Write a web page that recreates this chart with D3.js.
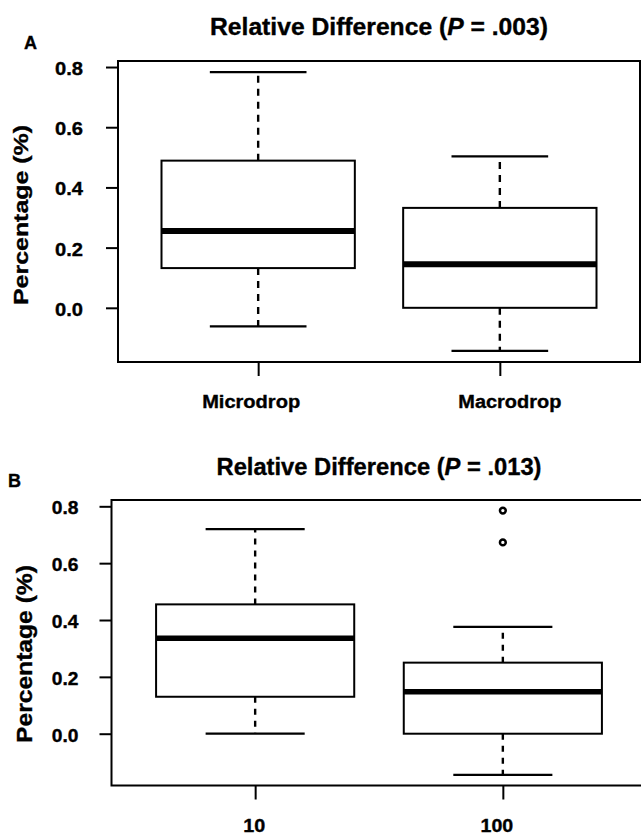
<!DOCTYPE html>
<html><head><meta charset="utf-8">
<script src="https://cdn.jsdelivr.net/npm/d3@7"></script>
<style>
body{margin:0;background:#fff}
svg{display:block}
text{font-family:"Liberation Sans",Arial,Helvetica,sans-serif;font-weight:bold;fill:#000;stroke:#000;stroke-width:0.35px}
</style>
</head><body>
<svg id="chart" width="641" height="835"></svg>
<script>
// ---------- data ----------
const yTicks = [0.0, 0.2, 0.4, 0.6, 0.8];

const categoriesA = ["Microdrop", "Macrodrop"];
const whiskerLowA  = [-0.062, -0.143];
const q1A          = [0.132, 0.000];
const medianA      = [0.255, 0.145];
const q3A          = [0.489, 0.332];
const whiskerHighA = [0.783, 0.503];
const outliersA    = [[], []];
const pValueA      = ".003";

const categoriesB = ["10", "100"];
const whiskerLowB  = [0.000, -0.145];
const q1B          = [0.130, 0.000];
const medianB      = [0.336, 0.148];
const q3B          = [0.455, 0.250];
const whiskerHighB = [0.720, 0.376];
const outliersB    = [[], [0.673, 0.785]];
const pValueB      = ".013";

const svg = d3.select("#chart");

function drawPanel(d, L) {
  const g = svg.append("g");
  const n = d.cats.length;
  const x = d3.scaleLinear().domain([0.5 - 0.04 * n, n + 0.5 + 0.04 * n]).range([L.left, L.right]);
  const all = d.low.concat(d.high, d.out.flat());
  const lo = d3.min(all), hi = d3.max(all), pad = (hi - lo) * 0.04;
  const y = d3.scaleLinear().domain([lo - pad, hi + pad]).range([L.bottom, L.top]);

  const idx = d3.range(n);
  const bw = 0.8, cw = 0.4;

  // whiskers (dashed)
  g.selectAll(".wu").data(idx).join("line")
    .attr("x1", i => x(i + 1)).attr("x2", i => x(i + 1))
    .attr("y1", i => y(d.q3[i])).attr("y2", i => y(d.high[i]))
    .attr("stroke", "#000").attr("stroke-width", 2.4).attr("stroke-dasharray", L.dash);
  g.selectAll(".wl").data(idx).join("line")
    .attr("x1", i => x(i + 1)).attr("x2", i => x(i + 1))
    .attr("y1", i => y(d.q1[i])).attr("y2", i => y(d.low[i]))
    .attr("stroke", "#000").attr("stroke-width", 2.4).attr("stroke-dasharray", L.dash);
  // caps
  ["high", "low"].forEach(k => {
    g.selectAll(".cap" + k).data(idx).join("line")
      .attr("x1", i => x(i + 1 - cw / 2)).attr("x2", i => x(i + 1 + cw / 2))
      .attr("y1", i => y(d[k][i])).attr("y2", i => y(d[k][i]))
      .attr("stroke", "#000").attr("stroke-width", 2.3);
  });
  // boxes
  g.selectAll(".box").data(idx).join("rect")
    .attr("x", i => x(i + 1 - bw / 2)).attr("width", i => x(i + 1 + bw / 2) - x(i + 1 - bw / 2))
    .attr("y", i => y(d.q3[i])).attr("height", i => y(d.q1[i]) - y(d.q3[i]))
    .attr("fill", "#fff").attr("stroke", "#000").attr("stroke-width", 2);
  // medians
  g.selectAll(".med").data(idx).join("line")
    .attr("x1", i => x(i + 1 - bw / 2)).attr("x2", i => x(i + 1 + bw / 2))
    .attr("y1", i => y(d.med[i])).attr("y2", i => y(d.med[i]))
    .attr("stroke", "#000").attr("stroke-width", L.medW);
  // outliers
  const outs = [];
  d.out.forEach((arr, i) => arr.forEach(v => outs.push({i, v})));
  g.selectAll(".out").data(outs).join("circle")
    .attr("cx", o => x(o.i + 1)).attr("cy", o => y(o.v)).attr("r", 2.9)
    .attr("fill", "none").attr("stroke", "#000").attr("stroke-width", 2.5);

  // frame
  g.append("rect").attr("x", L.left).attr("y", L.top)
    .attr("width", L.right - L.left).attr("height", L.bottom - L.top)
    .attr("fill", "none").attr("stroke", "#000").attr("stroke-width", 2);

  // y axis
  const ya = g.append("g").attr("transform", `translate(${L.left},0)`)
    .call(d3.axisLeft(y).tickValues(yTicks).tickSize(12).tickPadding(L.tickPad).tickFormat(d3.format(".1f")));
  ya.select(".domain").remove();
  ya.selectAll(".tick line").attr("stroke", "#000").attr("stroke-width", 2);
  ya.selectAll(".tick text").attr("font-size", L.tickSize).attr("font-family", null)
    .attr("dy", "0.42em").attr("textLength", L.tickLen).attr("lengthAdjust", "spacingAndGlyphs");

  // x axis
  const xa = g.append("g").attr("transform", `translate(0,${L.bottom})`)
    .call(d3.axisBottom(x).tickValues(idx.map(i => i + 1)).tickSize(14).tickFormat(""));
  xa.select(".domain").remove();
  xa.selectAll(".tick line").attr("stroke", "#000").attr("stroke-width", 2);
  g.selectAll(".xl").data(idx).join("text")
    .attr("x", i => x(i + 1) + L.xDx[i]).attr("y", L.xLabelY)
    .attr("text-anchor", "middle").attr("font-size", L.xLabelSize)
    .attr("textLength", i => L.xLabelLens[i]).attr("lengthAdjust", "spacingAndGlyphs")
    .text(i => d.cats[i]);

  // y title
  g.append("text")
    .attr("transform", `translate(${L.yTitleX},${L.yTitleY}) rotate(-90)`)
    .attr("text-anchor", "middle").attr("font-size", L.yTitleSize)
    .attr("textLength", L.yTitleLen).attr("lengthAdjust", "spacingAndGlyphs")
    .text("Percentage (%)");

  // title
  const t = g.append("text")
    .attr("x", (L.left + L.right) / 2).attr("y", L.titleY)
    .attr("text-anchor", "middle").attr("font-size", L.titleSize)
    .attr("textLength", L.titleLen).attr("lengthAdjust", "spacingAndGlyphs");
  t.append("tspan").text("Relative Difference (");
  t.append("tspan").attr("font-style", "italic").text("P");
  t.append("tspan").text(" = " + d.p + ")");

  // panel label
  g.append("text").attr("x", L.labX).attr("y", L.labY)
    .attr("font-size", L.labSize)
    .text(L.lab);
}

drawPanel(
  {cats: categoriesA, low: whiskerLowA, q1: q1A, med: medianA, q3: q3A, high: whiskerHighA, out: outliersA, p: pValueA},
  {left: 118, right: 640, top: 61, bottom: 362, dash: "7,6", medW: 6,
   tickPad: 23, tickSize: 18, tickLen: 28,
   xLabelY: 407.5, xLabelSize: 17.5, xLabelLens: [98, 103], xDx: [-7, 10],
   yTitleX: 28.3, yTitleY: 215, yTitleSize: 21, yTitleLen: 180,
   titleY: 34.7, titleSize: 23, titleLen: 338,
   lab: "A", labX: 24, labY: 48.5, labSize: 18}
);

drawPanel(
  {cats: categoriesB, low: whiskerLowB, q1: q1B, med: medianB, q3: q3B, high: whiskerHighB, out: outliersB, p: pValueB},
  {left: 111.5, right: 646.5, top: 500, bottom: 785.5, dash: "6,6", medW: 5.5,
   tickPad: 21, tickSize: 17.6, tickLen: 26.7,
   xLabelY: 832, xLabelSize: 18, xLabelLens: [22, 32.7], xDx: [-1, -6],
   yTitleX: 31.5, yTitleY: 654, yTitleSize: 21.5, yTitleLen: 178,
   titleY: 475, titleSize: 23.3, titleLen: 325,
   lab: "B", labX: 8, labY: 486.5, labSize: 18}
);
</script>
</body></html>
